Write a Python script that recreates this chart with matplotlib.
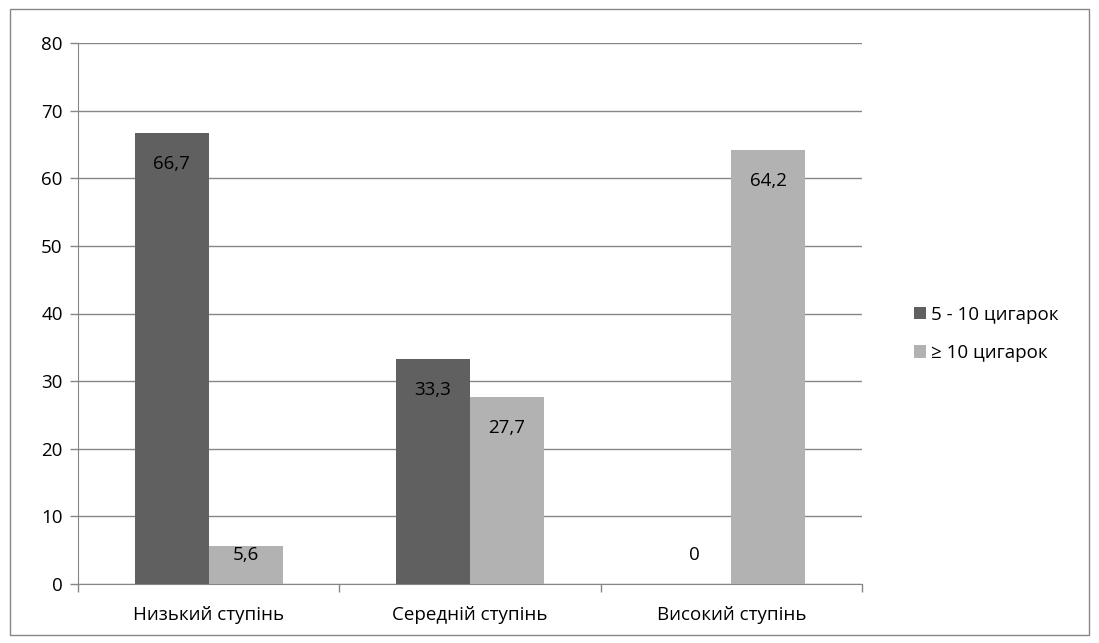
import numpy as np
import matplotlib
matplotlib.use('Agg')
import matplotlib.pyplot as plt
from matplotlib.patches import Rectangle

plt.rcParams['font.family'] = ['Open Sans', 'DejaVu Sans']

categories = ['Низький ступінь', 'Середній ступінь', 'Високий ступінь']
series_names = ['5 - 10 цигарок', '≥ 10 цигарок']
values_5_10 = [66.7, 33.3, 0]
values_10 = [5.6, 27.7, 64.2]
labels_5_10 = ['66,7', '33,3', '0']
labels_10 = ['5,6', '27,7', '64,2']

dark = '#606060'
light = '#b2b2b2'
grid_col = '#868686'
fs = 13.5

fig = plt.figure(figsize=(10.99, 6.43), dpi=100)
ax = fig.add_axes([78/1099, 59/643, 784/1099, 541/643])

x = np.arange(len(categories))
w = 0.283
b1 = ax.bar(x - w/2, values_5_10, w, color=dark, label=series_names[0], zorder=3)
b2 = ax.bar(x + w/2, values_10, w, color=light, label=series_names[1], zorder=3)

# labels sit inside the bar top, but never lower than near the axis (like Excel)
for bars, labs in ((b1, labels_5_10), (b2, labels_10)):
    for r, lab in zip(bars, labs):
        h = r.get_height()
        cx = r.get_x() + r.get_width()/2
        ycen = max(h - 4.6, 4.3)
        ax.text(cx, ycen, lab, ha='center', va='center', fontsize=fs,
                color='black', zorder=4)

ax.set_xlim(-0.5, 2.5)
ax.set_ylim(0, 80)
ax.set_yticks(range(0, 81, 10))
ax.yaxis.grid(True, color=grid_col, linewidth=1, zorder=0)
ax.set_xticks(x)
ax.set_xticklabels(categories, fontsize=fs)
ax.tick_params(axis='x', length=0, pad=16)
ax.set_xticks([-0.5, 0.5, 1.5, 2.5], minor=True)
ax.tick_params(axis='x', which='minor', length=6, color=grid_col, width=1)
ax.tick_params(axis='y', labelsize=fs, length=6, color=grid_col, width=1, pad=5)
for s in ('top', 'right'):
    ax.spines[s].set_visible(False)
ax.spines['left'].set_color(grid_col)
ax.spines['bottom'].set_color(grid_col)

leg = fig.legend(loc='center left', bbox_to_anchor=(897/1099, 1 - 334/643),
                 frameon=False, fontsize=fs, handlelength=0.65, handleheight=0.65,
                 handletextpad=0.25, labelspacing=1.1)

fig.patches.append(Rectangle((10/1099, 8/643), 1079/1099, 626/643, transform=fig.transFigure,
                             fill=False, edgecolor='#868686', linewidth=1))

fig.savefig('out.png', dpi=100)
